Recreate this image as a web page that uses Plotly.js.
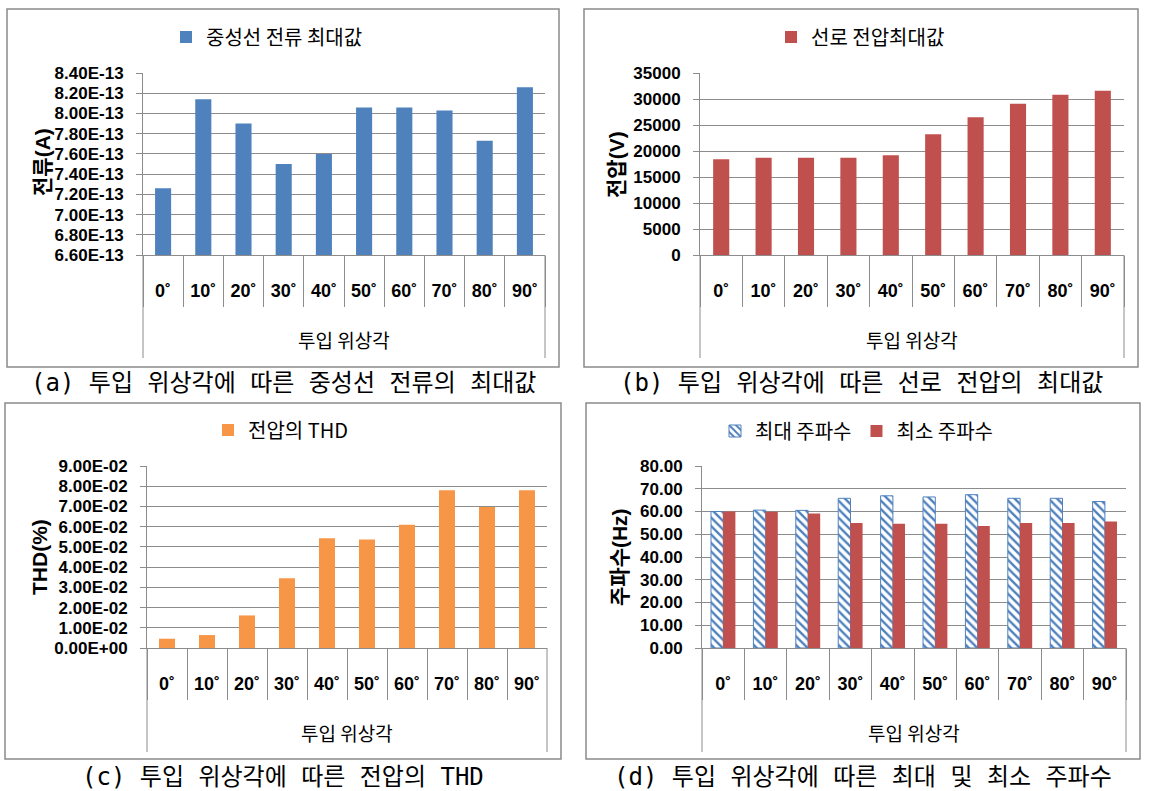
<!DOCTYPE html>
<html>
<head>
<meta charset="utf-8">
<script src="https://cdn.plot.ly/plotly-3.0.1.min.js"></script>
<style>
html,body{margin:0;padding:0;background:#fff;}
#chart{width:1156px;height:791px;}
</style>
</head>
<body>
<div id="chart"></div>
<script>
// ---------------- data ----------------
const categories = ['0˚','10˚','20˚','30˚','40˚','50˚','60˚','70˚','80˚','90˚'];

const neutralCurrentMax = [7.26e-13, 8.14e-13, 7.90e-13, 7.50e-13, 7.60e-13, 8.06e-13, 8.06e-13, 8.03e-13, 7.73e-13, 8.26e-13];
const lineVoltageMax = [18400, 18700, 18700, 18700, 19200, 23200, 26500, 29100, 30800, 31600];
const voltageTHD = [0.0046, 0.0064, 0.0161, 0.0345, 0.0543, 0.0536, 0.0609, 0.0780, 0.0697, 0.0780];
const freqMax = [60.0, 60.6, 60.5, 65.8, 66.9, 66.4, 67.4, 65.8, 65.8, 64.4];
const freqMin = [60.0, 59.9, 59.1, 55.0, 54.6, 54.6, 53.6, 55.0, 55.0, 55.6];

const currentTickVals = [6.6e-13, 6.8e-13, 7.0e-13, 7.2e-13, 7.4e-13, 7.6e-13, 7.8e-13, 8.0e-13, 8.2e-13, 8.4e-13];
const currentTickText = ['6.60E-13','6.80E-13','7.00E-13','7.20E-13','7.40E-13','7.60E-13','7.80E-13','8.00E-13','8.20E-13','8.40E-13'];
const thdTickVals = [0, 0.01, 0.02, 0.03, 0.04, 0.05, 0.06, 0.07, 0.08, 0.09];
const thdTickText = ['0.00E+00','1.00E-02','2.00E-02','3.00E-02','4.00E-02','5.00E-02','6.00E-02','7.00E-02','8.00E-02','9.00E-02'];

const seriesNames = ['중성선 전류 최대값', '선로 전압최대값', '전압의 THD', '최대 주파수', '최소 주파수'];
const xAxisTitle = '투입 위상각';
const yAxisTitles = ['전류(A)', '전압(V)', 'THD(%)', '주파수(Hz)'];
const captions = [
  '(a) 투입 위상각에 따른 중성선 전류의 최대값',
  '(b) 투입 위상각에 따른 선로 전압의 최대값',
  '(c) 투입 위상각에 따른 전압의 THD',
  '(d) 투입 위상각에 따른 최대 및 최소 주파수'
];

// ---------------- layout helpers ----------------
const W = 1156, H = 791;
const px = v => v / W;
const py = v => 1 - v / H;

const BLUE = '#4F81BD', RED = '#C0504D', ORANGE = '#F79646';
const GRID = '#8c8c8c';
const NUMFONT = 'Liberation Sans, Arial, Noto Sans CJK KR, sans-serif';
const KRFONT = 'Noto Sans CJK KR, Liberation Sans, sans-serif';

// panel geometry in pixels
const P = [
  {box:[7,9,559,367],    plot:[143,73,545,255], ytitle:[42,162],  xtitle:339, caption:383, legend:[166,37], lineEnd:358},
  {box:[584,9,1138,367], plot:[700,73,1124,255], ytitle:[617,165], xtitle:339, caption:383, legend:[771,37], lineEnd:358},
  {box:[5,403,561,759],  plot:[147,466,547,648], ytitle:[39,557],  xtitle:732, caption:777, legend:[208,430], lineEnd:752},
  {box:[586,403,1140,759],plot:[702,466,1126,648],ytitle:[619,557], xtitle:732, caption:777, legend:[715,431], lineEnd:752}
];

function xAxis(p, anchor) {
  return {
    domain: [px(p.plot[0]), px(p.plot[2])],
    anchor: anchor,
    type: 'category',
    tickson: 'boundaries',
    ticks: 'outside',
    ticklen: 51,
    tickwidth: 1,
    tickcolor: GRID,
    showline: true,
    linecolor: GRID,
    linewidth: 1,
    showgrid: false,
    zeroline: false,
    ticklabelstandoff: 19,
    tickfont: {family: NUMFONT, size: 18, color: '#000', weight: 'bold'},
    fixedrange: true
  };
}
function yAxis(p, anchor, extra) {
  return Object.assign({
    domain: [py(p.plot[3]), py(p.plot[1])],
    anchor: anchor,
    ticks: 'outside',
    ticklen: 6,
    tickwidth: 1,
    tickcolor: GRID,
    showline: true,
    linecolor: GRID,
    linewidth: 1,
    showgrid: true,
    gridcolor: GRID,
    gridwidth: 1,
    zeroline: false,
    ticklabelstandoff: 9,
    tickfont: {family: NUMFONT, size: 17, color: '#000', weight: 'bold'},
    fixedrange: true
  }, extra);
}

// ---------------- traces ----------------
const traces = [
  {type:'bar', x:categories, y:neutralCurrentMax, name:seriesNames[0], xaxis:'x', yaxis:'y', legend:'legend',
   marker:{color:BLUE}},
  {type:'bar', x:categories, y:lineVoltageMax, name:seriesNames[1], xaxis:'x2', yaxis:'y2', legend:'legend2',
   marker:{color:RED}},
  {type:'bar', x:categories, y:voltageTHD, name:seriesNames[2], xaxis:'x3', yaxis:'y3', legend:'legend3',
   marker:{color:ORANGE}},
  {type:'bar', x:categories, y:freqMax, name:seriesNames[3], xaxis:'x4', yaxis:'y4', legend:'legend4', offsetgroup:'max',
   marker:{color:'#ffffff', line:{color:BLUE, width:1},
           pattern:{shape:'\\', fgcolor:BLUE, bgcolor:'#ffffff', size:6, solidity:0.4, fillmode:'replace'}}},
  {type:'bar', x:categories, y:freqMin, name:seriesNames[4], xaxis:'x4', yaxis:'y4', legend:'legend4', offsetgroup:'min',
   marker:{color:RED}}
];

// bar widths per panel
traces[0].width = 0.4;
traces[1].width = 0.38;
traces[2].width = 0.4;
traces[3].width = 0.29;
traces[4].width = 0.29;

function legendAt(p) {
  return {
    x: px(p.legend[0]), xanchor: 'left',
    y: py(p.legend[1]), yanchor: 'middle',
    orientation: 'h',
    bgcolor: 'rgba(0,0,0,0)',
    borderwidth: 0,
    font: {family: KRFONT, size: 20, color: '#000'},
    itemclick: false, itemdoubleclick: false
  };
}

const shapes = [];
const annotations = [];
P.forEach((p, i) => {
  // outer border
  shapes.push({type:'rect', xref:'paper', yref:'paper',
    x0:px(p.box[0]), x1:px(p.box[2]), y0:py(p.box[3]), y1:py(p.box[1]),
    line:{color:'#8a8a8a', width:1.5}, fillcolor:'rgba(0,0,0,0)', layer:'below'});
  // left/right extension lines under category row
  const xd = i === 0 ? 'x domain' : 'x' + (i + 1) + ' domain';
  [0, 1].forEach(xv => shapes.push({type:'line', xref:xd, yref:'paper',
    x0:xv, x1:xv, y0:py(p.plot[3]), y1:py(p.lineEnd), line:{color:GRID, width:1}}));
  // x-axis title
  annotations.push({xref:xd, yref:'paper', x:0.5, y:py(p.xtitle), xanchor:'center', yanchor:'middle',
    text:xAxisTitle, showarrow:false, font:{family:KRFONT, size:19, color:'#000'}});
  // y-axis title
  annotations.push({xref:'paper', yref:'paper', x:px(p.ytitle[0]), y:py(p.ytitle[1]), xanchor:'center', yanchor:'middle',
    text:yAxisTitles[i], textangle:-90, showarrow:false,
    font:{family:NUMFONT, size:21, color:'#000', weight:'bold'}});
  // caption
  annotations.push({xref:'paper', yref:'paper', x:px((p.box[0] + p.box[2]) / 2), y:py(p.caption),
    xanchor:'center', yanchor:'middle', text:captions[i], showarrow:false,
    font:{family:'DejaVu Sans Mono, Noto Sans CJK KR, monospace', size:24, color:'#000'}});
});

const layout = {
  width: W, height: H,
  margin: {l:0, r:0, t:0, b:0, pad:0},
  paper_bgcolor: '#ffffff',
  plot_bgcolor: '#ffffff',
  showlegend: true,
  barmode: 'group',
  bargap: 0.43,
  bargroupgap: 0,
  xaxis: xAxis(P[0], 'y'),
  yaxis: yAxis(P[0], 'x', {range:[6.6e-13, 8.4e-13], tickmode:'array', tickvals:currentTickVals, ticktext:currentTickText}),
  xaxis2: xAxis(P[1], 'y2'),
  yaxis2: yAxis(P[1], 'x2', {range:[0, 35000], dtick:5000, tick0:0, tickformat:'d'}),
  xaxis3: xAxis(P[2], 'y3'),
  yaxis3: yAxis(P[2], 'x3', {range:[0, 0.09], tickmode:'array', tickvals:thdTickVals, ticktext:thdTickText}),
  xaxis4: xAxis(P[3], 'y4'),
  yaxis4: yAxis(P[3], 'x4', {range:[0, 80], dtick:10, tick0:0, tickformat:'.2f'}),
  legend: legendAt(P[0]),
  legend2: legendAt(P[1]),
  legend3: legendAt(P[2]),
  legend4: legendAt(P[3]),
  shapes: shapes,
  annotations: annotations
};

Plotly.newPlot('chart', traces, layout, {displayModeBar:false, staticPlot:true});
</script>
</body>
</html>
